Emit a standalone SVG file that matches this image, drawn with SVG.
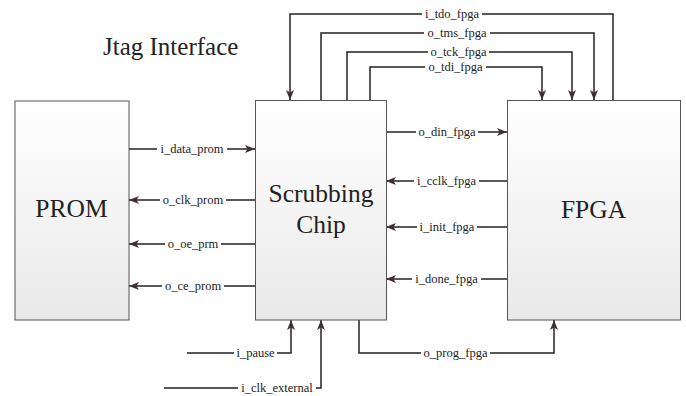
<svg xmlns="http://www.w3.org/2000/svg" width="686" height="396" viewBox="0 0 686 396">
<defs>
<linearGradient id="g" x1="0" y1="0" x2="0" y2="1"><stop offset="0" stop-color="#ffffff"/><stop offset="1" stop-color="#e9e9e9"/></linearGradient>
<marker id="ar" viewBox="0 0 10 8" refX="10" refY="4" markerWidth="10" markerHeight="8" markerUnits="userSpaceOnUse" orient="auto"><path d="M0,0 L10,4 L0,8 L2.5,4 Z" fill="#3f3131"/></marker>
<style>
.box{fill:url(#g);stroke:#555;stroke-width:1}
.nt{font-family:"Liberation Serif","Times New Roman",serif;font-size:25.5px;fill:#222;text-anchor:middle}
.c{fill:none;stroke:#222;stroke-width:1.5}
.a{marker-end:url(#ar)}
.lb{font-family:"Liberation Serif","Times New Roman",serif;font-size:12.5px;fill:#222;text-anchor:middle}
.bg{fill:#fff}
</style>
</defs>
<rect width="686" height="396" fill="#fff"/>
<text x="103" y="55" font-family="Liberation Serif, Times New Roman, serif" font-size="25" fill="#222">Jtag Interface</text>
<g id="connectors">
<path class="c a" d="M613,100 V14 H290 V100"/>
<path class="c a" d="M321,100 V33 H594 V100"/>
<path class="c a" d="M347,100 V52 H572 V100"/>
<path class="c a" d="M370,100 V67 H542 V100"/>
<path class="c a" d="M129,149 H255"/>
<path class="c a" d="M255,200 H129"/>
<path class="c a" d="M255,244 H129"/>
<path class="c a" d="M255,286 H129"/>
<path class="c a" d="M386,132 H507"/>
<path class="c a" d="M507,181 H386"/>
<path class="c a" d="M507,227 H386"/>
<path class="c a" d="M507,279 H386"/>
<path class="c a" d="M187,353 H291 V320"/>
<path class="c a" d="M164,388 H321 V320"/>
<path class="c a" d="M359,320 V353 H554 V320"/>
<rect class="bg" x="422" y="8" width="60" height="12"/>
<rect class="bg" x="424" y="27" width="66" height="12"/>
<rect class="bg" x="428" y="46" width="61" height="12"/>
<rect class="bg" x="425" y="61" width="61" height="12"/>
<rect class="bg" x="157" y="143" width="70" height="12"/>
<rect class="bg" x="160" y="194" width="66" height="12"/>
<rect class="bg" x="165" y="238" width="56" height="12"/>
<rect class="bg" x="162" y="280" width="62" height="12"/>
<rect class="bg" x="416" y="126" width="62" height="12"/>
<rect class="bg" x="414" y="175" width="65" height="12"/>
<rect class="bg" x="417" y="221" width="60" height="12"/>
<rect class="bg" x="412" y="273" width="69" height="12"/>
<rect class="bg" x="234" y="347" width="43" height="12"/>
<rect class="bg" x="238" y="382" width="78" height="12"/>
<rect class="bg" x="421" y="347" width="69" height="12"/>
<text class="lb" x="452" y="18">i_tdo_fpga</text>
<text class="lb" x="457" y="37">o_tms_fpga</text>
<text class="lb" x="458.5" y="56">o_tck_fpga</text>
<text class="lb" x="455.5" y="71">o_tdi_fpga</text>
<text class="lb" x="192" y="153">i_data_prom</text>
<text class="lb" x="193" y="204">o_clk_prom</text>
<text class="lb" x="193" y="248">o_oe_prm</text>
<text class="lb" x="193" y="290">o_ce_prom</text>
<text class="lb" x="447" y="136">o_din_fpga</text>
<text class="lb" x="446.5" y="185">i_cclk_fpga</text>
<text class="lb" x="447" y="231">i_init_fpga</text>
<text class="lb" x="446.5" y="283">i_done_fpga</text>
<text class="lb" x="255.5" y="357">i_pause</text>
<text class="lb" x="277" y="392">i_clk_external</text>
<text class="lb" x="455.5" y="357">o_prog_fpga</text>
</g>
<g id="prom">
<rect class="box" x="15" y="101" width="114" height="219"/>
<text class="nt" x="71.5" y="217">PROM</text>
</g>
<g id="scrubbing">
<rect class="box" x="255.5" y="100.5" width="131" height="219.5"/>
<text class="nt" x="321" y="202">Scrubbing</text>
<text class="nt" x="321" y="233">Chip</text>
</g>
<g id="fpga">
<rect class="box" x="507.5" y="100.5" width="173" height="219.5"/>
<text class="nt" x="593.5" y="218">FPGA</text>
</g>
</svg>
